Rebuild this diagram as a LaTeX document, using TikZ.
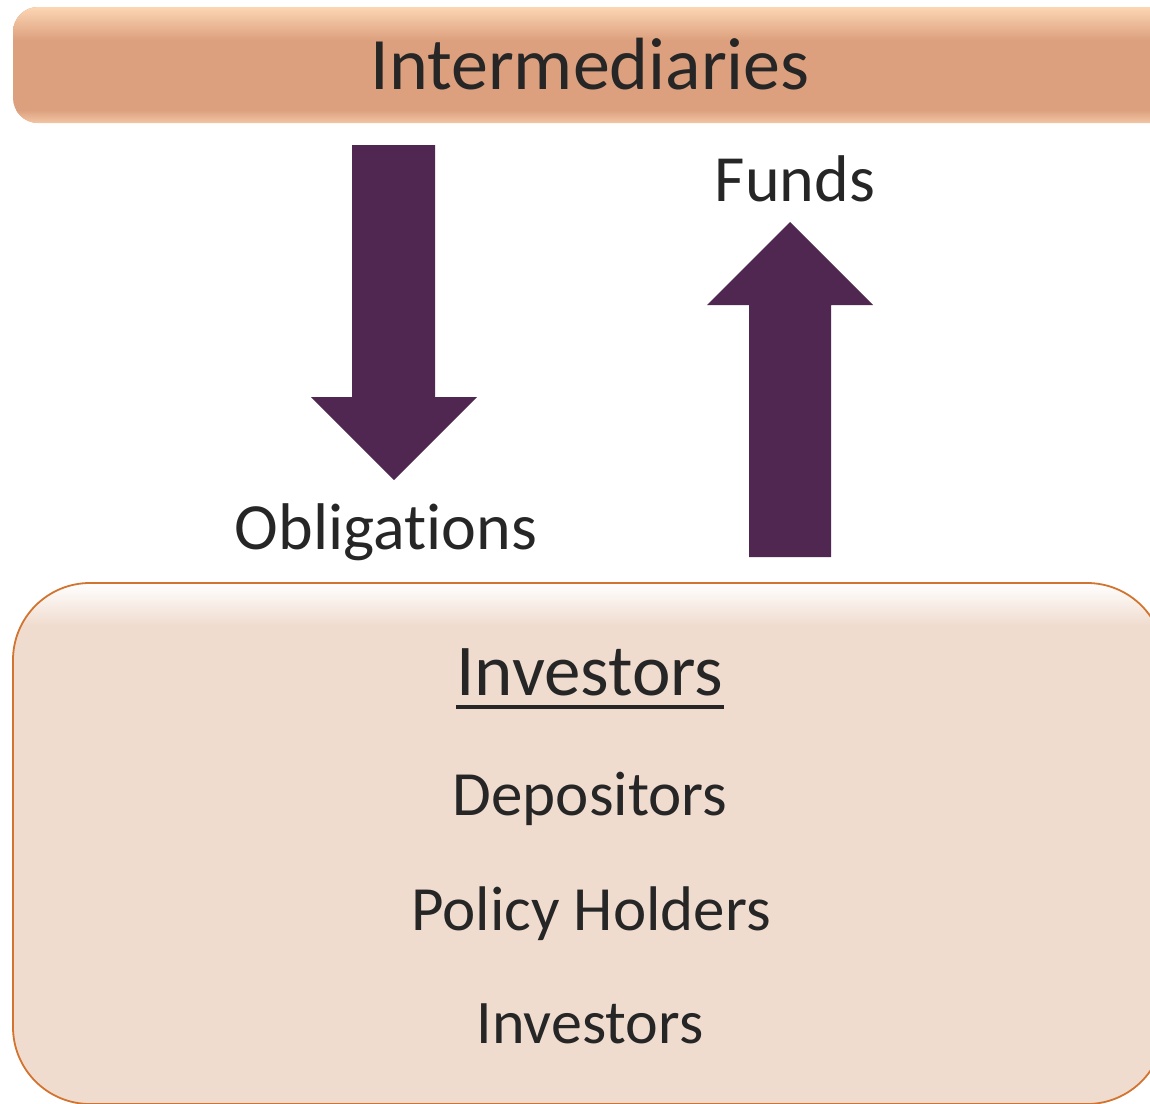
\documentclass[tikz,border=0pt]{standalone}
\usepackage{fontspec}
\setmainfont{Carlito}[Ligatures=NoCommon]
\definecolor{barfill}{HTML}{DCA07E}
\definecolor{barlight}{HTML}{FCD6B4}
\definecolor{boxfill}{HTML}{F0DCCF}
\definecolor{boxedge}{HTML}{D2742F}
\definecolor{arrowfill}{HTML}{4F2750}
\definecolor{txt}{HTML}{262626}

\begin{document}
\begin{tikzpicture}[x=1pt,y=-1pt,
    lbl/.style={text=txt,anchor=base,inner sep=0pt},
    big/.style={lbl,font=\fontsize{74}{90}\selectfont},
    mid/.style={lbl,font=\fontsize{66}{80}\selectfont},
    small/.style={lbl,font=\fontsize{63}{74}\selectfont}]
    \useasboundingbox (0,0) rectangle (1150,1103);
    \begin{scope}
        \clip (0,0) rectangle (1150,1103);
        % top bar
        \begin{scope}
            \clip [rounded corners=25pt] (13,7) rectangle (1180,123);
            \fill [barfill] (13,7) rectangle (1180,123);
            \shade [top color=barlight, bottom color=barfill] (13,7) rectangle (1180,40);
            \shade [top color=barfill, bottom color=barlight!70!barfill] (13,110) rectangle (1180,123);
        \end{scope}
        % bottom box
        \begin{scope}
            \clip [rounded corners=77pt] (13,583) rectangle (1164,1104);
            \fill [boxfill] (13,583) rectangle (1164,1104);
            \shade [top color=white, bottom color=boxfill] (13,583) rectangle (1164,625);
        \end{scope}
        \draw [boxedge, line width=1.8pt, rounded corners=77pt] (13,583) rectangle (1164,1104);
    \end{scope}
    % arrows
    \fill [arrowfill] (352,145) -- (435,145) -- (435,397) -- (477,397) -- (394,480)
        -- (311,397) -- (352,397) -- cycle;
    \fill [arrowfill] (749,557) -- (831,557) -- (831,305) -- (873,305) -- (790,222)
        -- (707,305) -- (749,305) -- cycle;
    % labels
    \node [big] (inter) at (590,89) {Intermediaries};
    \node [mid] (funds) at (795,201) {Funds};
    \node [mid] (oblig) at (386,549) {Obligations};
    \node [big, font=\fontsize{73}{86}\selectfont] (invhead) at (590,695) {Investors};
    \draw [txt, line width=4pt] ([yshift=-12pt]invhead.base west) -- ([yshift=-12pt]invhead.base east);
    \node [small] (depos) at (590,815) {Depositors};
    \node [small] (policy) at (591,930) {Policy Holders};
    \node [small, font=\fontsize{62}{74}\selectfont] (invest) at (590,1043) {Investors};
\end{tikzpicture}
\end{document}
